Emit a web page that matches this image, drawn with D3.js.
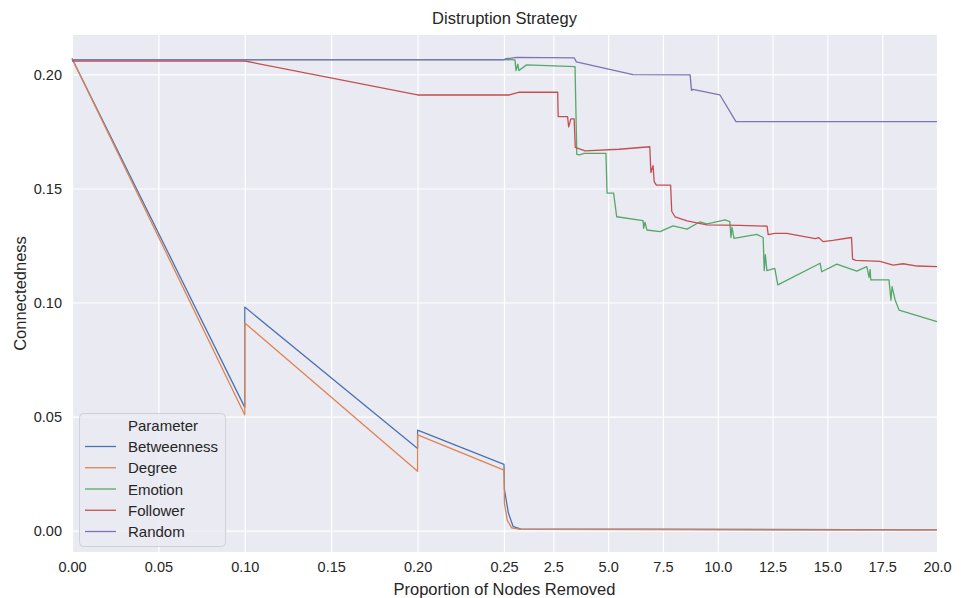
<!DOCTYPE html>
<html>
<head>
<meta charset="utf-8">
<script src="https://cdn.jsdelivr.net/npm/d3@7"></script>
<style>
body { margin: 0; background: #fff; }
text { font-family: "Liberation Sans", Arial, sans-serif; fill: #262626; }
</style>
</head>
<body>
<script>
// values
var seriesNames = ["Betweenness", "Degree", "Emotion", "Follower", "Random"];
var seriesColors = ["#4C72B0", "#DD8452", "#55A868", "#C44E52", "#8172B3"];

var betweennessX = [0, 0.1, 0.1, 0.2, 0.2, 0.25, 0.27, 0.45, 0.67, 1.0, 20];
var betweennessY = [0.207, 0.054, 0.098, 0.036, 0.044, 0.029, 0.018, 0.0077, 0.0017, 0.0007, 0.0003];

var degreeX = [0, 0.1, 0.1, 0.2, 0.2, 0.25, 0.27, 0.4, 0.6, 1.0, 20];
var degreeY = [0.207, 0.0507, 0.091, 0.026, 0.042, 0.0265, 0.012, 0.0045, 0.0012, 0.0005, 0.0002];

var emotionX = [0, 0.25, 0.75, 0.8, 0.88, 0.93, 1.28, 3.49, 3.57, 3.7, 3.9, 4.9, 4.95, 5.25, 5.39,
	6.59, 6.62, 6.68, 6.77, 7.37, 7.96, 8.6, 9.19, 9.5, 9.78, 10.33, 10.55, 10.6, 10.65, 10.74,
	11.78, 12.07, 12.12, 12.17, 12.24, 12.6, 12.74, 14.67, 14.74, 15.43, 16.34, 16.8, 16.9, 16.95,
	16.98, 17.81, 17.9, 17.95, 18.09, 18.27, 20];
var emotionY = [0.2065, 0.2065, 0.2064, 0.2017, 0.2045, 0.2017, 0.2042, 0.2034, 0.165, 0.1647, 0.1654, 0.1654, 0.148, 0.148, 0.1376,
	0.1359, 0.1325, 0.1352, 0.1318, 0.1311, 0.1336, 0.1322, 0.1354, 0.1345, 0.135, 0.1362, 0.1355, 0.1285, 0.133, 0.1281,
	0.1299, 0.1285, 0.114, 0.121, 0.114, 0.115, 0.1077, 0.1172, 0.1135, 0.1168, 0.1138, 0.1157, 0.111, 0.1145,
	0.1099, 0.1099, 0.101, 0.107, 0.1011, 0.0967, 0.0916];

var followerX = [0, 0.1, 0.2, 0.25, 0.5, 0.95, 2.7, 2.72, 3.15, 3.2, 3.3, 3.45, 3.5, 3.95, 5.5, 6.9, 6.95,
	7.05, 7.1, 7.2, 7.85, 7.9, 8.05, 8.6, 9.5, 11.0, 12.25, 12.3, 12.6, 13.15, 14.45, 14.6, 14.8, 15.25,
	16.1, 16.15, 16.3, 17.4, 18.0, 18.45, 19.1, 20];
var followerY = [0.2059, 0.2059, 0.191, 0.191, 0.191, 0.1922, 0.1922, 0.1815, 0.1815, 0.177, 0.1805, 0.1805, 0.168, 0.1665, 0.1672, 0.1683, 0.157,
	0.16, 0.153, 0.1515, 0.1515, 0.14, 0.1376, 0.1358, 0.134, 0.1338, 0.1335, 0.1298, 0.1303, 0.1303, 0.128, 0.1285, 0.1267, 0.1272,
	0.1285, 0.119, 0.1185, 0.118, 0.1164, 0.117, 0.116, 0.1157];

var randomX = [0, 0.25, 0.3, 0.83, 3.45, 3.55, 6.13, 8.74, 8.8, 8.86, 10.1, 10.83, 20];
var randomY = [0.2064, 0.2064, 0.2068, 0.2075, 0.2073, 0.2055, 0.1999, 0.1998, 0.193, 0.1935, 0.191, 0.1793, 0.1793];

var xTicks = [0, 0.05, 0.1, 0.15, 0.2, 0.25, 2.5, 5, 7.5, 10, 12.5, 15, 17.5, 20];
var xTickLabels = ["0.00", "0.05", "0.10", "0.15", "0.20", "0.25", "2.5", "5.0", "7.5", "10.0", "12.5", "15.0", "17.5", "20.0"];
var yTicks = [0, 0.05, 0.1, 0.15, 0.2];
var yTickLabels = ["0.00", "0.05", "0.10", "0.15", "0.20"];

var allX = [betweennessX, degreeX, emotionX, followerX, randomX];
var allY = [betweennessY, degreeY, emotionY, followerY, randomY];

var width = 963, height = 598;
var plotLeft = 72, plotRight = 937, plotTop = 35, plotBottom = 552;

var svg = d3.select("body").append("svg")
	.attr("width", width)
	.attr("height", height);

var x = d3.scaleLinear().domain([0, 0.25, 20]).range([plotLeft, 504, plotRight]);
var y = d3.scaleLinear().domain([-0.0094, 0.2173]).range([plotBottom, plotTop]);

svg.append("rect")
	.attr("x", plotLeft).attr("y", plotTop)
	.attr("width", plotRight - plotLeft).attr("height", plotBottom - plotTop)
	.attr("fill", "#EAEAF2");

// grid
svg.append("g")
	.attr("transform", "translate(0," + plotBottom + ")")
	.call(d3.axisBottom(x).tickValues(xTicks).tickSize(-(plotBottom - plotTop)).tickFormat(""))
	.call(function(g) {
		g.select(".domain").remove();
		g.selectAll("line").attr("stroke", "#fff").attr("stroke-width", 1.2);
	});
svg.append("g")
	.attr("transform", "translate(" + plotLeft + ",0)")
	.call(d3.axisLeft(y).tickValues(yTicks).tickSize(-(plotRight - plotLeft)).tickFormat(""))
	.call(function(g) {
		g.select(".domain").remove();
		g.selectAll("line").attr("stroke", "#fff").attr("stroke-width", 1.2);
	});

// tick labels
svg.append("g")
	.attr("transform", "translate(0," + plotBottom + ")")
	.call(d3.axisBottom(x).tickValues(xTicks).tickSize(0).tickPadding(10)
		.tickFormat(function(d, i) { return xTickLabels[i]; }))
	.call(function(g) {
		g.select(".domain").remove();
		g.selectAll("text").attr("font-size", "14.5px").attr("fill", "#262626")
			.attr("font-family", "'Liberation Sans', Arial, sans-serif");
	});
svg.append("g")
	.attr("transform", "translate(" + plotLeft + ",0)")
	.call(d3.axisLeft(y).tickValues(yTicks).tickSize(0).tickPadding(10)
		.tickFormat(function(d, i) { return yTickLabels[i]; }))
	.call(function(g) {
		g.select(".domain").remove();
		g.selectAll("text").attr("font-size", "14.5px").attr("fill", "#262626")
			.attr("font-family", "'Liberation Sans', Arial, sans-serif");
	});

// lines
var line = d3.line()
	.x(function(d) { return x(d[0]); })
	.y(function(d) { return y(d[1]); });

svg.append("g")
	.selectAll("path.series")
	.data(seriesNames)
	.enter().append("path")
		.attr("class", "series")
		.attr("d", function(d, i) {
			return line(allX[i].map(function(v, j) { return [v, allY[i][j]]; }));
		})
		.attr("fill", "none")
		.attr("stroke", function(d, i) { return seriesColors[i]; })
		.attr("stroke-width", 1.3)
		.attr("stroke-linejoin", "round");

// title and axis labels
svg.append("text")
	.attr("x", (plotLeft + plotRight) / 2).attr("y", 24)
	.attr("text-anchor", "middle")
	.attr("font-size", "16.5px")
	.text("Distruption Strategy");

svg.append("text")
	.attr("x", (plotLeft + plotRight) / 2).attr("y", 595)
	.attr("text-anchor", "middle")
	.attr("font-size", "16.5px")
	.text("Proportion of Nodes Removed");

svg.append("text")
	.attr("transform", "translate(26," + ((plotTop + plotBottom) / 2) + ") rotate(-90)")
	.attr("text-anchor", "middle")
	.attr("font-size", "16.5px")
	.text("Connectedness");

// legend
var legend = svg.append("g");
legend.append("rect")
	.attr("x", 79.5).attr("y", 413.5)
	.attr("width", 146).attr("height", 133)
	.attr("rx", 4)
	.attr("fill", "#EAEAF2").attr("fill-opacity", 0.85)
	.attr("stroke", "#d0d0d8");
legend.append("text")
	.attr("x", 128).attr("y", 431)
	.attr("font-size", "15px")
	.text("Parameter");
legend.selectAll("line.key")
	.data(seriesNames)
	.enter().append("line")
		.attr("class", "key")
		.attr("x1", 85).attr("x2", 116)
		.attr("y1", function(d, i) { return 446.5 + i * 21.25; })
		.attr("y2", function(d, i) { return 446.5 + i * 21.25; })
		.attr("stroke", function(d, i) { return seriesColors[i]; })
		.attr("stroke-width", 1.3);
legend.selectAll("text.key")
	.data(seriesNames)
	.enter().append("text")
		.attr("class", "key")
		.attr("x", 128)
		.attr("y", function(d, i) { return 452 + i * 21.25; })
		.attr("font-size", "15px")
		.text(function(d) { return d; });
</script>
</body>
</html>
